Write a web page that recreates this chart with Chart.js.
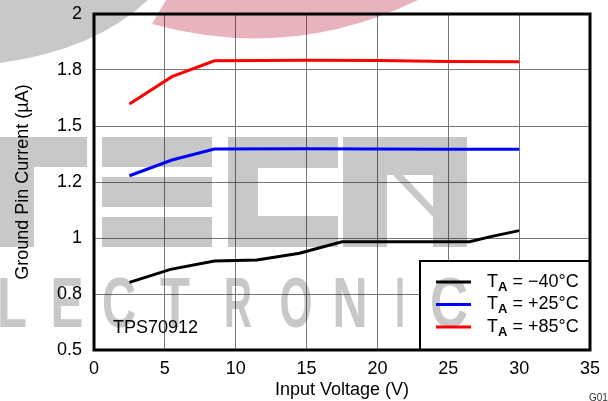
<!DOCTYPE html>
<html>
<head>
<meta charset="utf-8">
<script src="https://cdn.jsdelivr.net/npm/chart.js@4.4.1/dist/chart.umd.min.js"></script>
<style>
  html, body { margin: 0; padding: 0; background: #fff; }
  canvas { display: block; }
</style>
</head>
<body>
<canvas id="grafico" width="608" height="401"></canvas>
<script>
// input voltage (V) and ground pin current (uA)
const vinM40 = [2.5, 5.4, 8.5, 11.5, 14.5, 17.5, 26.5, 28, 30];
const ignM40 = [0.802, 0.860, 0.897, 0.902, 0.932, 0.983, 0.983, 1.006, 1.033];
const vin25 = [2.5, 5.5, 8.5, 15, 20, 25, 30];
const ign25 = [1.278, 1.348, 1.397, 1.398, 1.397, 1.396, 1.396];
const vin85 = [2.5, 5.5, 8.5, 15, 20, 25, 30];
const ign85 = [1.598, 1.720, 1.791, 1.793, 1.792, 1.788, 1.787];
const tempLabels = ['\u221240\u00b0C', '+25\u00b0C', '+85\u00b0C'];
const yTickLabels = ['0.5', '0.8', '1', '1.2', '1.5', '1.8', '2'];

function pts(xs, ys) {
    return xs.map(function (x, i) { return { x: x, y: ys[i] }; });
}

const FONT = '"Liberation Sans", Arial, sans-serif';
Chart.defaults.font.family = FONT;
Chart.defaults.font.size = 18;
Chart.defaults.color = '#000';

function drawWatermark(ctx) {
    ctx.save();
    ctx.globalCompositeOperation = 'multiply';
    // pink swoosh
    ctx.fillStyle = '#e8b3bc';
    ctx.beginPath();
    ctx.moveTo(166, 0);
    ctx.lineTo(152, 24);
    ctx.quadraticCurveTo(290, 62, 418, 0);
    ctx.closePath();
    ctx.fill();
    // grey swoosh + TECH, one path so overlaps are not darkened twice
    ctx.fillStyle = '#c8c8c8';
    ctx.beginPath();
    ctx.moveTo(0, 0);
    ctx.lineTo(0, 63);
    ctx.quadraticCurveTo(95, 50, 148, 0);
    ctx.closePath();
    ctx.rect(0, 137, 87, 30);
    ctx.rect(0, 167, 34, 80);
    ctx.rect(102, 137, 110, 30);
    ctx.rect(102, 177, 110, 30);
    ctx.rect(102, 217, 110, 30);
    ctx.rect(228, 137, 110, 31);
    ctx.rect(228, 168, 30, 48);
    ctx.rect(228, 216, 110, 31);
    ctx.rect(343, 137, 124, 38);
    ctx.rect(343, 175, 44, 72);
    ctx.rect(433, 175, 34, 72);
    ctx.moveTo(393, 175);
    ctx.lineTo(403, 175);
    ctx.lineTo(433, 207);
    ctx.lineTo(433, 217);
    ctx.closePath();
    ctx.fill();
    // ELECTRONIC
    const letters = ['L', 'E', 'C', 'T', 'R', 'O', 'N', 'I', 'C'];
    const cx = [12, 67, 119, 175, 238, 296, 350, 400, 449];
    const w = [30, 33, 34, 30, 28, 33, 35, 10, 38];
    ctx.font = 'bold 70px ' + FONT;
    ctx.textAlign = 'center';
    ctx.textBaseline = 'alphabetic';
    letters.forEach(function (l, i) {
        ctx.fillText(l, cx[i], 327, w[i]);
    });
    ctx.restore();
}

const extras = {
    id: 'extras',
    beforeDraw: function (chart) {
        const ctx = chart.ctx;
        ctx.save();
        ctx.fillStyle = '#fff';
        ctx.fillRect(0, 0, chart.width, chart.height);
        ctx.restore();
    },
    beforeDatasetsDraw: function (chart) {
        const ctx = chart.ctx;
        // legend box
        ctx.save();
        ctx.fillStyle = '#fff';
        ctx.fillRect(419, 260, 171, 90);
        ctx.strokeStyle = '#000';
        ctx.lineWidth = 2;
        ctx.strokeRect(420, 261, 170, 89);
        ctx.restore();
        drawWatermark(ctx);
    },
    afterDatasetsDraw: function (chart) {
        const ctx = chart.ctx;
        const a = chart.chartArea;
        ctx.save();
        ctx.strokeStyle = '#000';
        ctx.lineWidth = 3;
        ctx.strokeRect(a.left, a.top, a.right - a.left, a.bottom - a.top);

        // legend entries
        chart.data.datasets.forEach(function (ds, i) {
            const y = 282 + i * 22.5;
            ctx.strokeStyle = ds.borderColor;
            ctx.lineWidth = 3;
            ctx.beginPath();
            ctx.moveTo(436, y);
            ctx.lineTo(471, y);
            ctx.stroke();
            ctx.fillStyle = '#000';
            ctx.textBaseline = 'middle';
            ctx.textAlign = 'left';
            ctx.font = '18px ' + FONT;
            ctx.fillText('T', 487, y);
            const tw = ctx.measureText('T').width;
            ctx.font = 'bold 13px ' + FONT;
            ctx.fillText('A', 487 + tw, y + 5);
            const aw = ctx.measureText('A').width;
            ctx.font = '18px ' + FONT;
            ctx.fillText(' = ' + tempLabels[i], 487 + tw + aw, y);
        });

        ctx.font = '18px ' + FONT;
        ctx.textBaseline = 'alphabetic';
        ctx.fillText('TPS70912', 113, 333);
        ctx.font = '10px ' + FONT;
        ctx.fillStyle = '#333';
        ctx.fillText('G01', 589, 401);
        ctx.restore();
    }
};

new Chart(document.getElementById('grafico'), {
    type: 'line',
    data: {
        datasets: [
            { label: tempLabels[0], data: pts(vinM40, ignM40), borderColor: '#000000' },
            { label: tempLabels[1], data: pts(vin25, ign25), borderColor: '#0000ff' },
            { label: tempLabels[2], data: pts(vin85, ign85), borderColor: '#ff0000' }
        ]
    },
    options: {
        responsive: false,
        animation: false,
        devicePixelRatio: 1,
        layout: { padding: { top: 14, right: 18, left: 0, bottom: 0 } },
        elements: {
            point: { radius: 0 },
            line: { borderWidth: 3, tension: 0, fill: false }
        },
        plugins: {
            legend: { display: false },
            tooltip: { enabled: false }
        },
        scales: {
            x: {
                type: 'linear',
                min: 0,
                max: 35,
                afterFit: function (s) {
                    s.height = 51;
                    s.paddingLeft = 0;
                    s.paddingRight = 0;
                },
                border: { display: false },
                grid: { color: '#777', lineWidth: 1, drawTicks: false },
                ticks: { stepSize: 5, padding: 8, maxRotation: 0 },
                title: { display: true, text: 'Input Voltage (V)', padding: { top: 0, bottom: 0 } }
            },
            y: {
                min: 0.5,
                max: 2,
                afterFit: function (s) {
                    s.width = 94;
                    s.paddingTop = 0;
                    s.paddingBottom = 0;
                },
                border: { display: false },
                grid: { color: '#777', lineWidth: 1, drawTicks: false },
                ticks: {
                    stepSize: 0.25,
                    padding: 12,
                    callback: function (v) {
                        return yTickLabels[Math.round((v - 0.5) / 0.25)];
                    }
                },
                title: { display: true, text: 'Ground Pin Current (\u00b5A)', padding: { top: 12, bottom: 0 } }
            }
        }
    },
    plugins: [extras]
});
</script>
</body>
</html>
